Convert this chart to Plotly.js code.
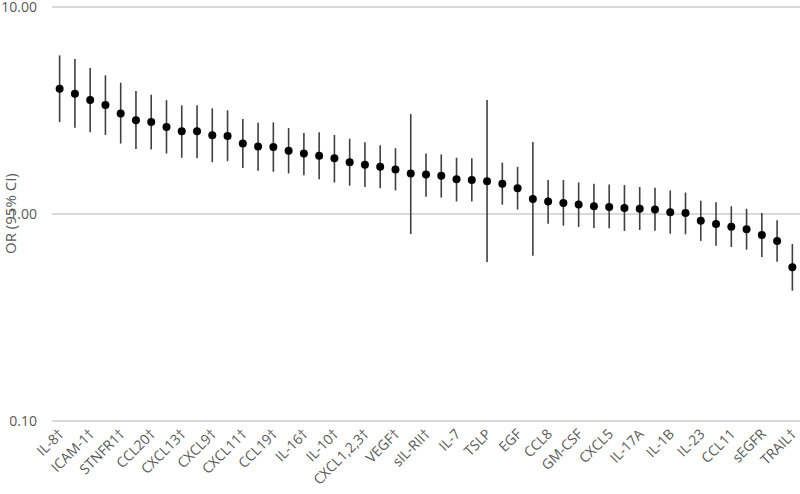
<!DOCTYPE html>
<html>
<head>
<meta charset="utf-8">
<script src="https://cdn.plot.ly/plotly-3.0.1.min.js"></script>
<style>html,body{margin:0;padding:0;background:#fff;}#chart{width:800px;height:494px;}</style>
</head>
<body>
<div id="chart"></div>
<script>
// Labels shown on every second category (index 0,2,...,48)
const tickLabels = ["IL-8†","ICAM-1†","STNFR1†","CCL20†","CXCL13†","CXCL9†","CXCL11†","CCL19†","IL-16†","IL-10†","CXCL1,2,3†","VEGF†","sIL-RII†","IL-7","TSLP","EGF","CCL8","GM-CSF","CXCL5","IL-17A","IL-1B","IL-23","CCL11","sEGFR","TRAIL†"];
const orValues = [4.03,3.81,3.55,3.36,3.06,2.84,2.78,2.63,2.51,2.51,2.40,2.38,2.19,2.12,2.11,2.02,1.96,1.91,1.86,1.78,1.73,1.69,1.64,1.57,1.55,1.53,1.47,1.46,1.44,1.40,1.33,1.18,1.15,1.13,1.11,1.09,1.08,1.07,1.06,1.05,1.02,1.01,0.928,0.895,0.868,0.844,0.792,0.741,0.553];
const ciUpper = [5.84,5.61,5.07,4.68,4.31,3.93,3.77,3.55,3.35,3.35,3.24,3.17,2.88,2.76,2.77,2.60,2.46,2.48,2.41,2.31,2.22,2.15,2.08,3.04,1.96,1.94,1.87,1.86,3.55,1.77,1.69,2.23,1.46,1.46,1.42,1.40,1.39,1.38,1.35,1.34,1.30,1.27,1.16,1.14,1.09,1.06,1.01,0.932,0.716];
const ciLower = [2.78,2.61,2.48,2.41,2.19,2.06,2.05,1.96,1.87,1.86,1.78,1.80,1.67,1.62,1.60,1.57,1.54,1.47,1.42,1.37,1.35,1.33,1.30,0.80,1.21,1.20,1.15,1.15,0.586,1.11,1.05,0.629,0.898,0.878,0.866,0.856,0.853,0.828,0.837,0.830,0.803,0.798,0.741,0.703,0.693,0.672,0.620,0.588,0.426];
const yTickVals = [0.1, 1, 10];
const yTickText = ["0.10", "1.00", "10.00"];

const xIdx = orValues.map((_, i) => i);
const tickPos = tickLabels.map((_, i) => i * 2);

const trace = {
  type: 'scatter',
  mode: 'markers',
  x: xIdx,
  y: orValues,
  marker: {color: '#000000', size: 8},
  error_y: {
    type: 'data',
    symmetric: false,
    array: orValues.map((v, i) => ciUpper[i] - v),
    arrayminus: orValues.map((v, i) => v - ciLower[i]),
    color: '#404040',
    thickness: 1.6,
    width: 0
  },
  hoverinfo: 'x+y'
};

const fam = 'Open Sans, Lato, sans-serif';

const layout = {
  width: 800, height: 494,
  margin: {l: 52, r: 0, t: 6, b: 72},
  paper_bgcolor: '#ffffff', plot_bgcolor: '#ffffff',
  showlegend: false,
  font: {family: fam, size: 14, color: '#595959'},
  xaxis: {
    range: [-0.5, 48.5],
    tickmode: 'array', tickvals: tickPos, ticktext: tickLabels,
    tickangle: -45, showgrid: false, zeroline: false, showline: false,
    ticks: '', ticklabeloverflow: 'allow',
    tickfont: {family: fam, size: 14, color: '#595959'}
  },
  yaxis: {
    type: 'log', range: [-1.005, 1.005],
    tickmode: 'array', tickvals: yTickVals, ticktext: yTickText,
    showgrid: true, gridcolor: '#d9d9d9', gridwidth: 1.3,
    zeroline: false, showline: false, ticks: '',
    ticklabelstandoff: 14, ticklabeloverflow: 'allow',
    tickfont: {family: fam, size: 14, color: '#595959'}
  },
  annotations: [{
    text: 'OR (95% CI)', textangle: -90, showarrow: false,
    xref: 'paper', yref: 'paper', x: 0, y: 0.5, xanchor: 'center', yanchor: 'middle',
    xshift: -42, font: {family: fam, size: 15, color: '#595959'}
  }]
};

Plotly.newPlot('chart', [trace], layout, {displayModeBar: false, staticPlot: true});
</script>
</body>
</html>
